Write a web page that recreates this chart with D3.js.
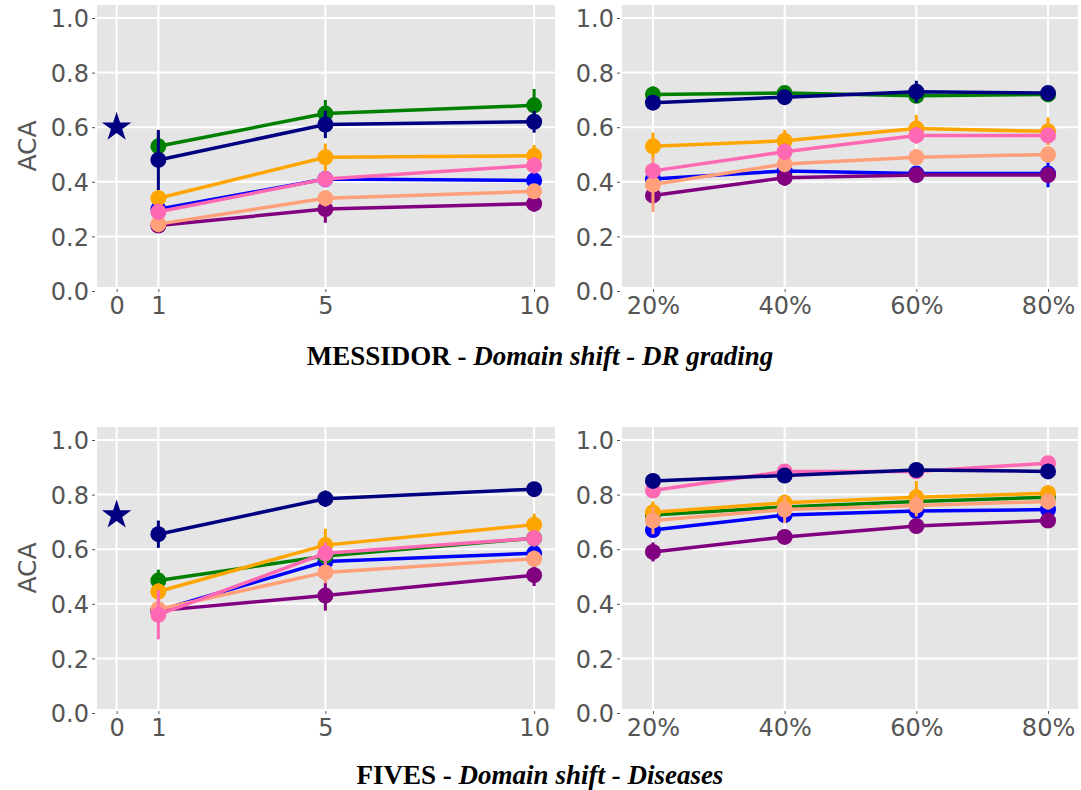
<!DOCTYPE html>
<html>
<head>
<meta charset="utf-8">
<script src="https://cdn.jsdelivr.net/npm/d3@7"></script>
<style>
  body { margin: 0; background: #fff; }
  svg { display: block; }
  .tick text { font-family: "DejaVu Sans", sans-serif; font-size: 24px; fill: #555; }
  .tick line { stroke: #555; }
  .domain { display: none; }
</style>
</head>
<body>
<div id="chart"></div>
<script>
// series, in drawing order
const seriesNames = ["blue", "purple", "green", "orange", "salmon", "pink", "navy"];
const seriesColors = ["#0000ff", "#800080", "#008000", "#ffa500", "#ffa07a", "#ff69b4", "#000080"];

const shotX = [1, 5, 10];
const shotTicks = [0, 1, 5, 10];
const pctX = [20, 40, 60, 80];
const yTicks = [0, 0.2, 0.4, 0.6, 0.8, 1.0];

// zero-shot reference (star at x = 0)
const zeroShot = [0.60, 0.725];

// MESSIDOR, few-shot (1, 5, 10)
const messidorShot = {
  purple: [0.24, 0.30, 0.32],
  blue:   [0.30, 0.41, 0.405],
  green:  [0.53, 0.65, 0.68],
  orange: [0.34, 0.49, 0.495],
  salmon: [0.245, 0.34, 0.365],
  pink:   [0.29, 0.41, 0.46],
  navy:   [0.48, 0.61, 0.62]
};
const messidorShotErr = {
  purple: [0.02, 0.05, 0.03],
  blue:   [0.03, 0.03, 0.03],
  green:  [0.05, 0.05, 0.06],
  orange: [0.03, 0.05, 0.04],
  salmon: [0.03, 0.03, 0.02],
  pink:   [0.03, 0.03, 0.03],
  navy:   [0.11, 0.05, 0.04]
};

// MESSIDOR, % of training data
const messidorPct = {
  purple: [0.35, 0.415, 0.425, 0.425],
  blue:   [0.41, 0.44, 0.43, 0.43],
  green:  [0.72, 0.725, 0.715, 0.72],
  orange: [0.53, 0.55, 0.595, 0.585],
  salmon: [0.39, 0.465, 0.49, 0.50],
  pink:   [0.44, 0.51, 0.57, 0.57],
  navy:   [0.69, 0.71, 0.73, 0.725]
};
const messidorPctErr = {
  purple: [0.03, 0.03, 0.02, 0.03],
  blue:   [0.03, 0.02, 0.02, 0.05],
  green:  [0.03, 0.02, 0.02, 0.02],
  orange: [0.05, 0.04, 0.05, 0.05],
  salmon: [0.10, 0.03, 0.03, 0.03],
  pink:   [0.03, 0.03, 0.03, 0.02],
  navy:   [0.02, 0.02, 0.04, 0.02]
};

// FIVES, few-shot
const fivesShot = {
  purple: [0.375, 0.43, 0.505],
  blue:   [0.375, 0.555, 0.585],
  green:  [0.485, 0.575, 0.64],
  orange: [0.445, 0.615, 0.69],
  salmon: [0.38, 0.515, 0.565],
  pink:   [0.36, 0.585, 0.64],
  navy:   [0.655, 0.785, 0.82]
};
const fivesShotErr = {
  purple: [0.03, 0.055, 0.04],
  blue:   [0.03, 0.03, 0.02],
  green:  [0.04, 0.03, 0.03],
  orange: [0.03, 0.06, 0.04],
  salmon: [0.04, 0.04, 0.03],
  pink:   [0.09, 0.04, 0.03],
  navy:   [0.05, 0.03, 0.02]
};

// FIVES, % of training data
const fivesPct = {
  purple: [0.59, 0.645, 0.685, 0.705],
  blue:   [0.67, 0.725, 0.74, 0.745],
  green:  [0.725, 0.755, 0.775, 0.79],
  orange: [0.735, 0.77, 0.79, 0.805],
  salmon: [0.705, 0.745, 0.76, 0.775],
  pink:   [0.815, 0.885, 0.885, 0.915],
  navy:   [0.85, 0.87, 0.89, 0.885]
};
const fivesPctErr = {
  purple: [0.035, 0.02, 0.02, 0.02],
  blue:   [0.02, 0.02, 0.02, 0.02],
  green:  [0.02, 0.02, 0.02, 0.02],
  orange: [0.04, 0.03, 0.06, 0.03],
  salmon: [0.05, 0.05, 0.04, 0.03],
  pink:   [0.02, 0.02, 0.02, 0.02],
  navy:   [0.02, 0.02, 0.02, 0.02]
};

const titles = [
  ["MESSIDOR - ", "Domain shift - DR grading"],
  ["FIVES - ", "Domain shift - Diseases"]
];

const W = 1081, H = 790;
const svg = d3.select("#chart").append("svg").attr("width", W).attr("height", H);

const color = d3.scaleOrdinal().domain(seriesNames).range(seriesColors);

// layout: two rows, each with a few-shot panel and a percentage panel
const rows = [
  { top: 5, bottom: 287, y0: 291, y1: 18, shot: messidorShot, shotErr: messidorShotErr, pct: messidorPct, pctErr: messidorPctErr, star: zeroShot[0], titleY: 365 },
  { top: 427, bottom: 709, y0: 713, y1: 440, shot: fivesShot, shotErr: fivesShotErr, pct: fivesPct, pctErr: fivesPctErr, star: zeroShot[1], titleY: 784 }
];

function drawPanel(row, xScale, xs, ticks, tickFmt, values, errs, withStar, withLabel) {
  const y = d3.scaleLinear().domain([0, 1]).range([row.y0, row.y1]);
  const [left, right] = xScale.range();
  const g = svg.append("g");

  g.append("rect")
    .attr("x", left).attr("y", row.top)
    .attr("width", right - left).attr("height", row.bottom - row.top)
    .attr("fill", "#e5e5e5");

  // grid
  g.selectAll(".gy").data(yTicks).join("line")
    .attr("x1", left).attr("x2", right)
    .attr("y1", d => y(d)).attr("y2", d => y(d))
    .attr("stroke", "#fff").attr("stroke-width", 2);
  g.selectAll(".gx").data(ticks).join("line")
    .attr("x1", d => xScale(d)).attr("x2", d => xScale(d))
    .attr("y1", row.top).attr("y2", row.bottom)
    .attr("stroke", "#fff").attr("stroke-width", 2);

  // axes
  g.append("g").attr("transform", `translate(${left - 2},0)`)
    .call(d3.axisLeft(y).tickValues(yTicks).tickFormat(d3.format(".1f")).tickSize(3).tickPadding(3))
    .selectAll("text").attr("dy", "0.36em");
  g.append("g").attr("transform", `translate(0,${row.bottom + 2})`)
    .call(d3.axisBottom(xScale).tickValues(ticks).tickFormat(tickFmt).tickSize(3).tickPadding(5));

  if (withLabel) {
    g.append("text")
      .attr("transform", `translate(36,${(row.top + row.bottom) / 2}) rotate(-90)`)
      .attr("text-anchor", "middle")
      .style("font-family", "DejaVu Sans, sans-serif")
      .style("font-size", "25px")
      .style("fill", "#555")
      .text("ACA");
  }

  if (withStar) {
    g.append("path")
      .attr("d", d3.symbol().type(d3.symbolStar).size(270)())
      .attr("transform", `translate(${xScale(0)},${y(row.star)})`)
      .attr("fill", "#000080");
  }

  const line = d3.line().x((d, i) => xScale(xs[i])).y(d => y(d));

  seriesNames.forEach(name => {
    const s = g.append("g");
    const vals = values[name], e = errs[name];
    s.selectAll("line").data(vals).join("line")
      .attr("x1", (d, i) => xScale(xs[i])).attr("x2", (d, i) => xScale(xs[i]))
      .attr("y1", (d, i) => y(d - e[i])).attr("y2", (d, i) => y(d + e[i]))
      .attr("stroke", color(name)).attr("stroke-width", 3);
    s.append("path").datum(vals)
      .attr("d", line)
      .attr("fill", "none")
      .attr("stroke", color(name)).attr("stroke-width", 3.5);
    s.selectAll("circle").data(vals).join("circle")
      .attr("cx", (d, i) => xScale(xs[i])).attr("cy", d => y(d))
      .attr("r", 8)
      .attr("fill", color(name));
  });
}

const xShot = d3.scaleLinear().domain([-0.47, 10.5]).range([97, 555]);
const xPct = d3.scaleLinear().domain([15.3, 84.55]).range([622, 1078]);

rows.forEach((row, i) => {
  drawPanel(row, xShot, shotX, shotTicks, d3.format("d"), row.shot, row.shotErr, true, true);
  drawPanel(row, xPct, pctX, pctX, d => d + "%", row.pct, row.pctErr, false, false);

  const t = svg.append("text")
    .attr("x", 540).attr("y", row.titleY)
    .attr("text-anchor", "middle")
    .style("font-family", "Liberation Serif, Times New Roman, serif")
    .style("font-size", "27px")
    .style("font-weight", "bold")
    .style("fill", "#000");
  t.append("tspan").text(titles[i][0]);
  t.append("tspan").style("font-style", "italic").text(titles[i][1]);
});
</script>
</body>
</html>
